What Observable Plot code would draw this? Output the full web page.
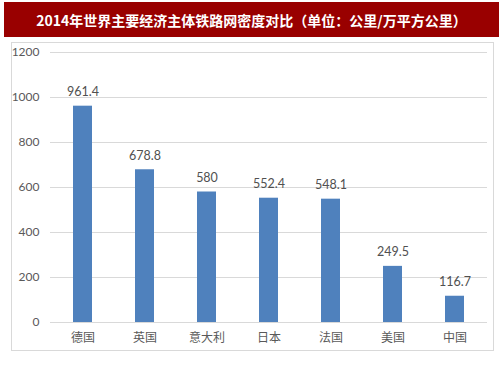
<!DOCTYPE html>
<html><head><meta charset="utf-8">
<script src="https://cdn.jsdelivr.net/npm/d3@7"></script>
<script src="https://cdn.jsdelivr.net/npm/@observablehq/plot@0.6"></script>
<style>
body{margin:0;background:#fff;width:503px;height:378px;position:relative;overflow:hidden}
#title{position:absolute;left:4px;top:2px;width:495px;height:35px;background:#990000;color:#fff;
font:bold 14px "Noto Sans CJK SC",sans-serif;display:flex;align-items:center;justify-content:center;letter-spacing:0px}
#frame{position:absolute;left:11px;top:42px;width:481px;height:307px;border:1px solid #d9d9d9}
#frame svg{display:block}
</style></head><body>
<div id="title">2014年世界主要经济主体铁路网密度对比（单位：公里/万平方公里）</div>
<div id="frame"></div>
<script>
const countries = ["德国","英国","意大利","日本","法国","美国","中国"];
const density = [961.4, 678.8, 580, 552.4, 548.1, 249.5, 116.7];
const yTicks = [0,200,400,600,800,1000,1200];
const data = countries.map((c,i)=>({country:c, value:density[i]}));
const chart = Plot.plot({
  width:481, height:307,
  marginLeft:38, marginRight:6, marginTop:9, marginBottom:28,
  style:{background:"#fff", color:"#595959"},
  x:{domain:countries, paddingInner:0.69, paddingOuter:0.345, label:null},
  y:{domain:[0,1200], ticks:yTicks, label:null},
  marks:[
    Plot.gridY(yTicks,{stroke:"#d9d9d9", strokeOpacity:1}),
    Plot.barY(data,{x:"country", y:"value", fill:"#4F81BD"}),
    Plot.text(data,{x:"country", y:"value", text:d=>String(d.value), lineAnchor:"bottom", dy:-10,
      fill:"#505050", fontSize:12.5, fontFamily:"Lato, sans-serif"}),
    Plot.axisY({ticks:yTicks, tickFormat:d=>String(d), tickSize:0, tickPadding:11, fontSize:12, fontFamily:"Lato, sans-serif", fill:"#595959", label:null}),
    Plot.axisX({tickSize:0, tickPadding:11, fontSize:12, fontFamily:"Noto Sans CJK SC, sans-serif", fill:"#595959", label:null})
  ]
});
document.getElementById("frame").appendChild(chart);
</script></body></html>
